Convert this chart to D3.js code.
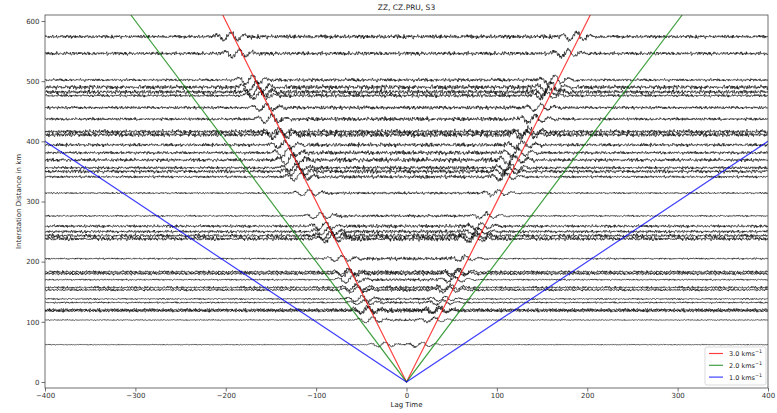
<!DOCTYPE html>
<html>
<head>
<meta charset="utf-8">
<script src="https://cdn.jsdelivr.net/npm/d3@7/dist/d3.min.js"></script>
<style>
  body { margin: 0; background: #fff; }
  text { font-family: "DejaVu Sans", sans-serif; fill: #222; }
</style>
</head>
<body>
<svg id="chart" width="777" height="413"></svg>
<script>
// ── Data ─────────────────────────────────────────────────────────────────────
const TITLE = 'ZZ, CZ.PRU, S3';
const X_TICKS = [-400, -300, -200, -100, 0, 100, 200, 300, 400];
const Y_TICKS = [0, 100, 200, 300, 400, 500, 600];

// interstation distance (km) of every correlation trace
const DIST        = [574, 546, 502, 490, 482, 476, 456, 437, 416, 411, 394, 381, 369, 356, 350, 341, 314,
                     276, 259, 250, 243, 238, 205, 183, 180, 170, 157, 153, 138, 132, 120, 118, 103, 62];
// background noise level, coda level between arrivals, acausal / causal arrival size (km of plot)
const NOISE_AMP   = [4.0, 4.0, 3.0, 4.8, 4.8, 3.2, 3.6, 3.4, 4.8, 4.8, 4.0, 3.4, 4.0, 3.4, 4.0, 3.0, 2.0,
                     2.0, 3.4, 3.4, 4.2, 4.2, 2.0, 3.0, 3.0, 1.8, 3.0, 2.6, 1.8, 2.0, 3.4, 2.6, 1.2, 1.0];
const CODA_AMP    = [5.0, 4.6, 4.0, 5.4, 5.4, 4.4, 4.6, 5.0, 5.4, 5.8, 5.0, 5.0, 5.6, 4.6, 5.0, 4.4, 3.2,
                     3.6, 4.4, 4.4, 5.6, 5.6, 4.2, 3.8, 3.8, 3.4, 3.8, 3.6, 3.0, 3.0, 4.4, 3.6, 2.8, 2.6];
const ACAUSAL_AMP = [7, 7, 8, 9, 8, 6, 6, 7, 6, 7, 6, 7, 8, 6, 7, 7, 5,
                     5, 6, 6, 7, 6, 5, 5, 5, 6, 5, 5, 5, 4, 6, 5, 5, 4];
const CAUSAL_AMP  = [7, 6, 7, 8, 7, 6, 6, 7, 6, 6, 6, 7, 7, 6, 6, 6, 5,
                     5, 5, 5, 6, 6, 4, 5, 5, 5, 5, 5, 4, 4, 5, 4, 4, 4];

// hand written noise samples and arrival wavelet used to draw the traces
const NOISE = [0.12,-0.45,0.78,-0.31,0.05,0.62,-0.88,0.27,-0.14,0.53,-0.69,0.91,-0.22,0.36,-0.57,0.08,0.74,
  -0.95,0.41,-0.03,-0.66,0.29,0.85,-0.48,0.17,-0.79,0.58,-0.11,0.33,-0.92,0.67,0.02,-0.38,0.81,-0.55,0.24,
  -0.73,0.46,0.09,-0.27,0.94,-0.61,0.15,-0.84,0.52,-0.19,0.71,-0.42,0.31,-0.06,-0.77,0.63,-0.35,0.88,-0.13,
  0.21,-0.58,0.44,-0.97,0.69,-0.24,0.07,0.56,-0.82,0.38,-0.49,0.93,-0.16,0.26,-0.71,0.49,-0.33,0.83,-0.64,
  0.11,0.39,-0.86,0.59,-0.21,0.75,-0.44,0.04,-0.52,0.97,-0.37,0.18,-0.68,0.47,-0.09,0.61,-0.89,0.34,-0.26,
  0.72,-0.54,0.14,-0.81,0.43,0.23,-0.63,0.87];
const WAVELET = [0, 0.2, 0.5, 0.3, -0.4, -0.9, -0.6, 0.3, 1.0, 0.8, -0.2, -0.7, -0.5, 0.1, 0.4, 0.3, 0, -0.2, -0.1, 0];

const VELOCITIES = [3.0, 2.0, 1.0];
const VEL_COLORS = ['#ff0000', '#008000', '#0000ff'];

// ── Layout ───────────────────────────────────────────────────────────────────
const W = 777, H = 413;
const M = { left: 45, right: 9, top: 15, bottom: 25 };
const svg = d3.select('#chart');

const x = d3.scaleLinear().domain([-400, 400]).range([M.left, W - M.right]);
const y = d3.scaleLinear().domain([-10, 610]).range([H - M.bottom, M.top]);

svg.append('defs').append('clipPath').attr('id', 'plot-clip')
  .append('rect')
  .attr('x', x(-400)).attr('y', y(610))
  .attr('width', x(400) - x(-400)).attr('height', y(-10) - y(610));

const plot = svg.append('g').attr('clip-path', 'url(#plot-clip)');

// ── Traces ───────────────────────────────────────────────────────────────────
const DT = 0.4;
const lagSamples = d3.range(-400, 400 + DT, DT);
const NL = NOISE.length;

function traceValues(i) {
  const d = DIST[i];
  const tArr = d / 3.0;
  const off1 = (i * 37) % NL;
  const off2 = (i * 53 + 11) % NL;
  const off3 = (i * 19 + 5) % NL;
  return lagSamples.map((t, j) => {
    const n = 0.5 * NOISE[(j * 7 + off1) % NL]
            + 0.3 * NOISE[(Math.floor(j / 4) + off2) % NL]
            + 0.2 * NOISE[(Math.floor(j / 2) * 3 + off3) % NL];
    const amp = Math.abs(t) < tArr ? CODA_AMP[i] : NOISE_AMP[i];
    let v = n * amp;
    // arrival wavelets on both branches
    [[-tArr, ACAUSAL_AMP[i]], [tArr, CAUSAL_AMP[i]]].forEach(([ta, a]) => {
      const k = Math.floor((t - ta) / 2.5 + WAVELET.length / 2);
      if (k >= 0 && k < WAVELET.length) v += a * WAVELET[k];
    });
    return [t, d + v];
  });
}

const line = d3.line().x(p => x(p[0])).y(p => y(p[1]));

plot.selectAll('path.trace')
  .data(DIST.map((d, i) => traceValues(i)))
  .join('path')
  .attr('class', 'trace')
  .attr('d', line)
  .attr('fill', 'none')
  .attr('stroke', '#000')
  .attr('stroke-opacity', 0.85)
  .attr('stroke-width', 0.75);

// ── Velocity lines ───────────────────────────────────────────────────────────
VELOCITIES.forEach((v, i) => {
  const tMax = 610 / v;
  plot.append('path')
    .attr('d', line([[-tMax, 610], [0, 0], [tMax, 610]]))
    .attr('fill', 'none')
    .attr('stroke', VEL_COLORS[i])
    .attr('stroke-opacity', 0.75)
    .attr('stroke-width', 1.2);
});

// ── Axes ─────────────────────────────────────────────────────────────────────
const fmt = d => d < 0 ? '\u2212' + Math.abs(d) : String(d);

const xAxis = svg.append('g')
  .attr('transform', `translate(0,${H - M.bottom})`)
  .call(d3.axisBottom(x).tickValues(X_TICKS).tickFormat(fmt).tickSize(3.5).tickPadding(2));
const yAxis = svg.append('g')
  .attr('transform', `translate(${M.left},0)`)
  .call(d3.axisLeft(y).tickValues(Y_TICKS).tickFormat(fmt).tickSize(3.5).tickPadding(2));

[xAxis, yAxis].forEach(g => {
  g.select('.domain').remove();
  g.selectAll('line').attr('stroke', '#333').attr('stroke-width', 0.7);
  g.selectAll('text').attr('font-size', 7).style('fill', '#333');
});

svg.append('rect')
  .attr('x', x(-400)).attr('y', y(610))
  .attr('width', x(400) - x(-400)).attr('height', y(-10) - y(610))
  .attr('fill', 'none').attr('stroke', '#333').attr('stroke-width', 0.7);

svg.append('text')
  .attr('x', (x(-400) + x(400)) / 2).attr('y', 10)
  .attr('text-anchor', 'middle').attr('font-size', 7.5)
  .text(TITLE);

svg.append('text')
  .attr('x', (x(-400) + x(400)) / 2).attr('y', 407)
  .attr('text-anchor', 'middle').attr('font-size', 7)
  .text('Lag Time');

svg.append('text')
  .attr('transform', `translate(21,${(y(-10) + y(610)) / 2}) rotate(-90)`)
  .attr('text-anchor', 'middle').attr('font-size', 7)
  .text('Interstation Distance in km');

// ── Legend ───────────────────────────────────────────────────────────────────
const leg = svg.append('g').attr('transform', 'translate(705,347)');
leg.append('rect')
  .attr('width', 61).attr('height', 38).attr('rx', 2)
  .attr('fill', '#fff').attr('fill-opacity', 0.85)
  .attr('stroke', '#ccc').attr('stroke-width', 0.7);

VELOCITIES.forEach((v, i) => {
  const ly = 6.5 + i * 11.8;
  leg.append('line')
    .attr('x1', 4).attr('x2', 18).attr('y1', ly).attr('y2', ly)
    .attr('stroke', VEL_COLORS[i]).attr('stroke-opacity', 0.75).attr('stroke-width', 1.2);
  const t = leg.append('text').attr('x', 24).attr('y', ly + 2.5).attr('font-size', 6.5);
  t.append('tspan').text(v.toFixed(1) + ' kms');
  t.append('tspan').attr('dy', -3).attr('font-size', 4.8).text('\u22121');
});
</script>
</body>
</html>
